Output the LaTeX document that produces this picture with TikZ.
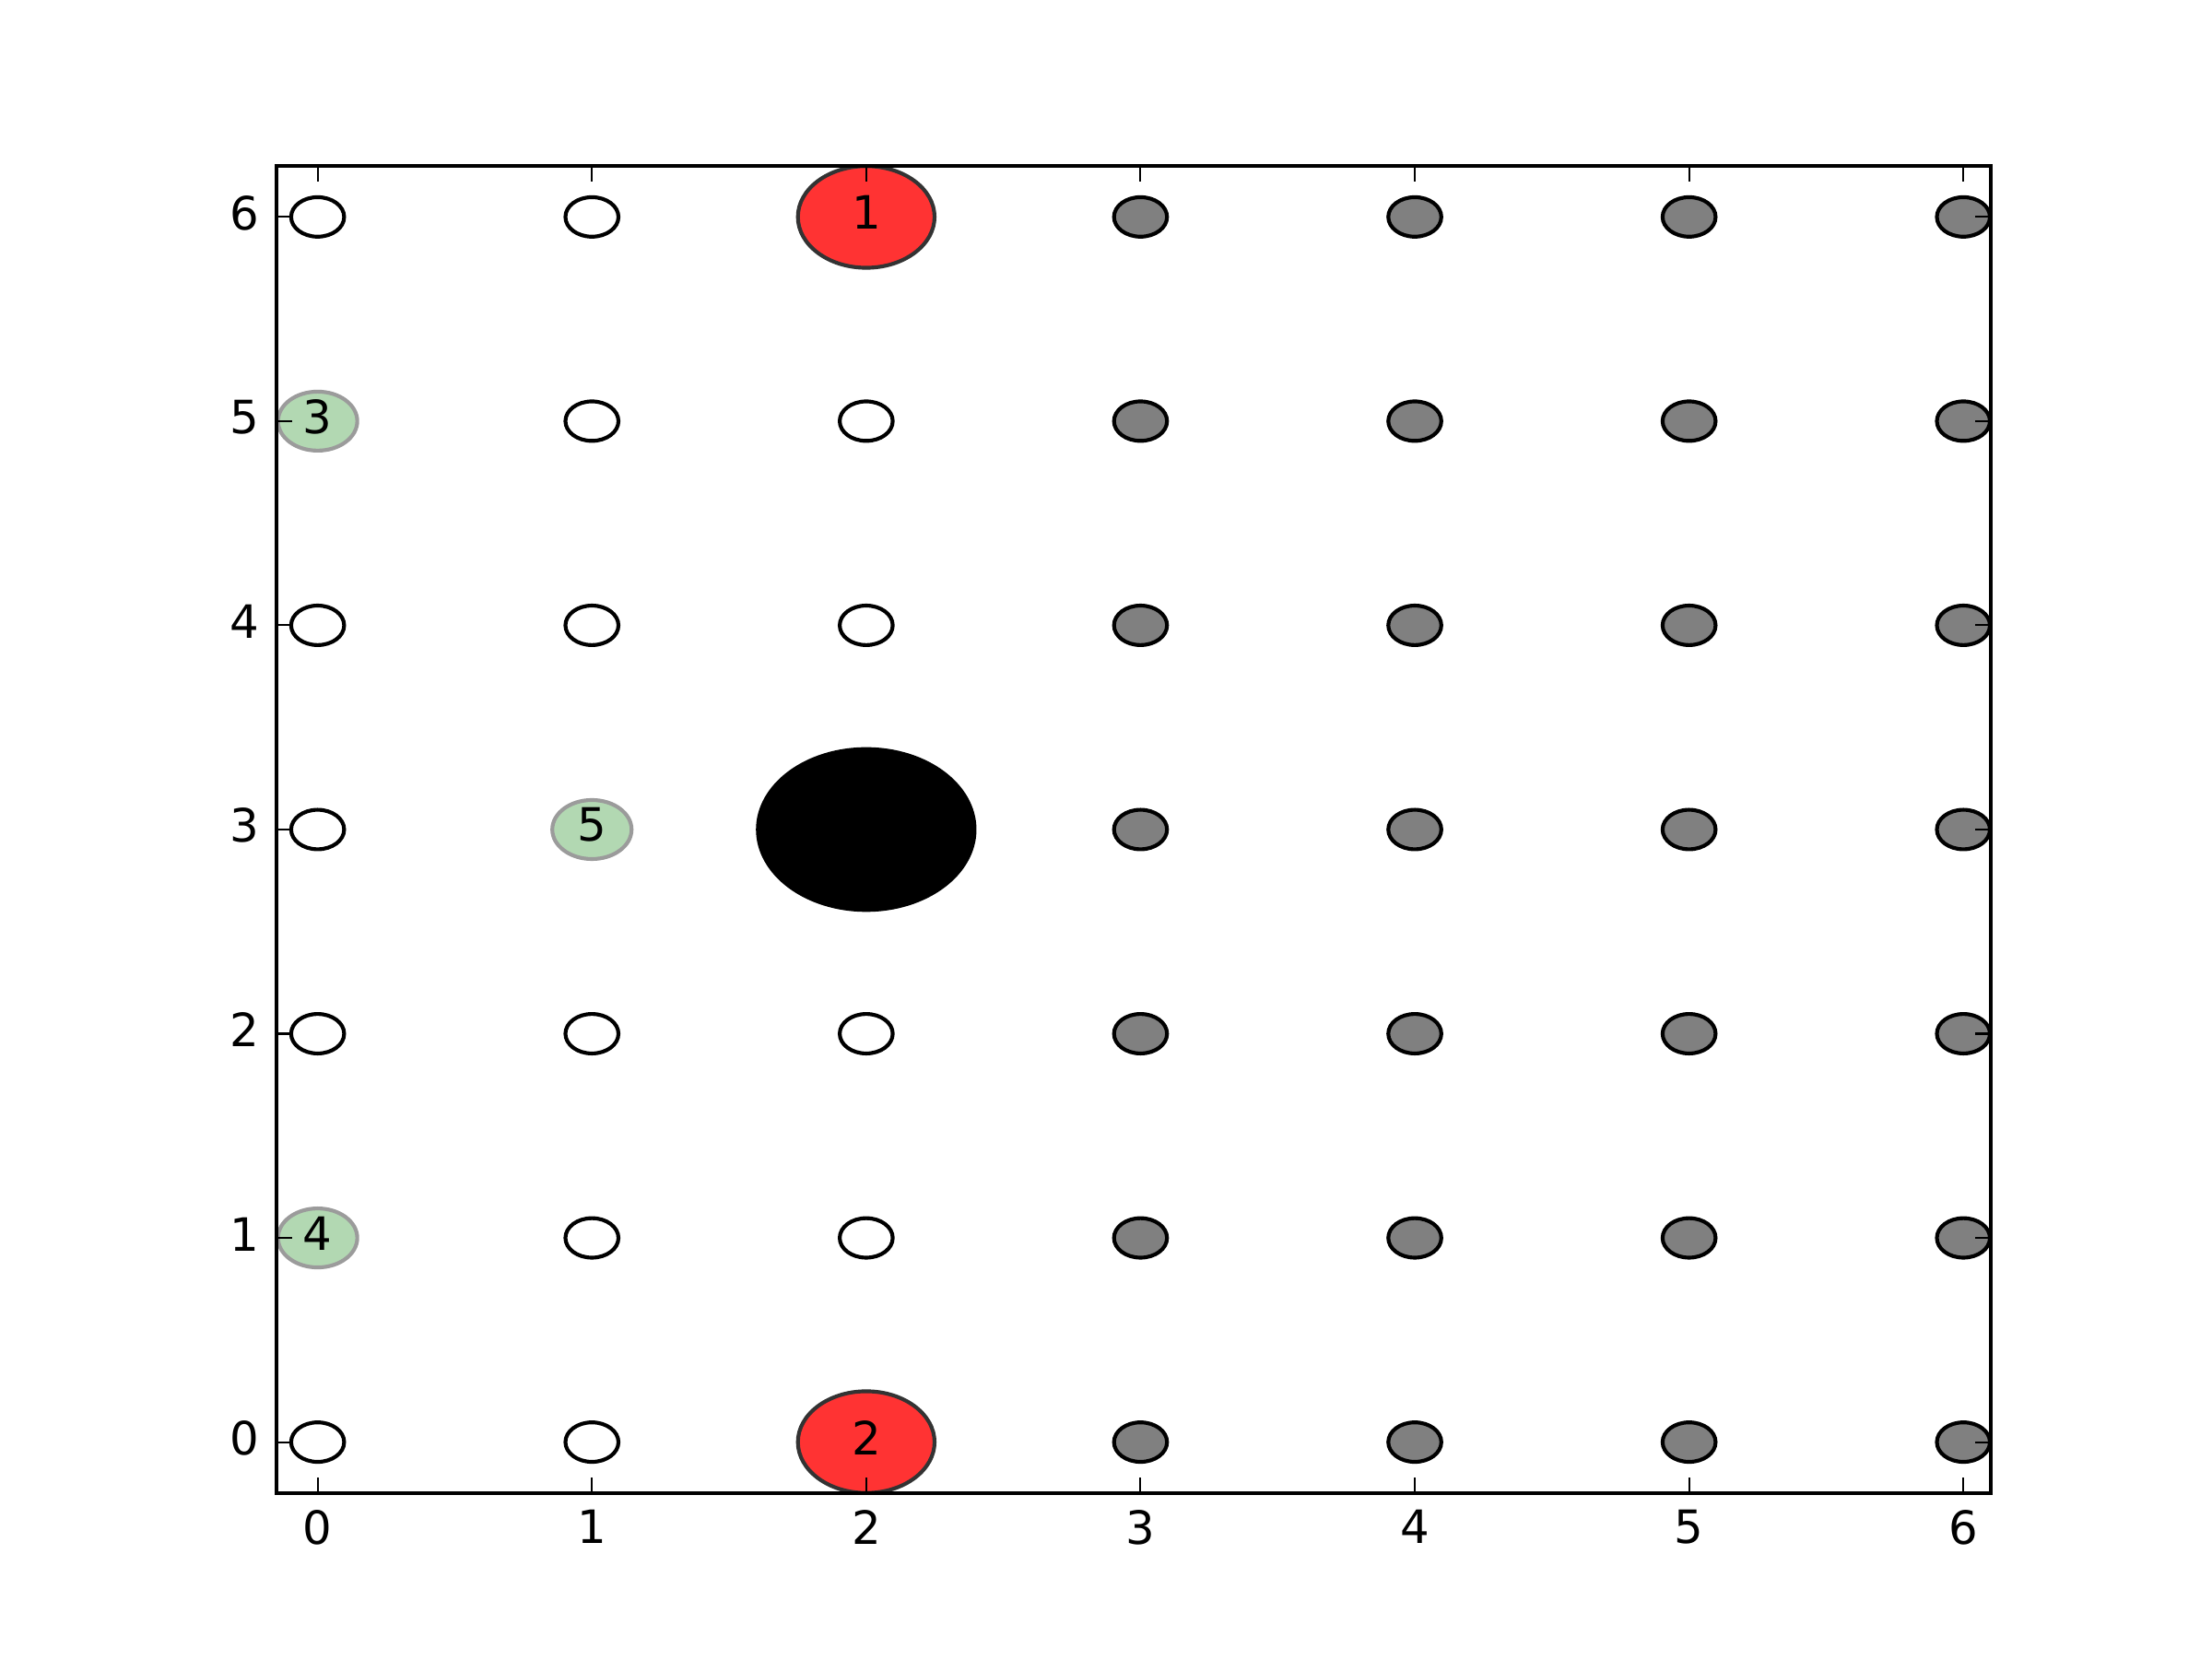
\documentclass[tikz,border=0pt]{standalone}
\usepackage{fontspec}
\setmainfont{DejaVu Sans}
\definecolor{ptgray}{RGB}{128,128,128}
\definecolor{redfill}{RGB}{255,51,51}
\definecolor{rededge}{RGB}{51,51,51}
\definecolor{greenfill}{RGB}{178,216,178}
\definecolor{greenedge}{RGB}{155,155,155}
\tikzset{
  cwhite/.style={draw=black, fill=white, line width=1pt},
  cgray/.style={draw=black, fill=ptgray, line width=1pt},
  cred/.style={draw=rededge, fill=redfill, line width=1pt},
  cgreen/.style={draw=greenedge, fill=greenfill, line width=1pt},
  cblack/.style={draw=black, fill=black, line width=0.5pt},
  ticklin/.style={line width=0.5pt},
  spine/.style={line width=1pt},
  lbl/.style={inner sep=0pt},
}
\begin{document}
\begin{tikzpicture}[x=0.992in, y=0.738462in, font=\fontsize{12}{14.4}\selectfont]
\useasboundingbox (-1.158065,-1.0625) rectangle (6.906452,7.0625);
\begin{scope}
\clip (-0.15,-0.25) rectangle (6.1,6.25);
% white markers
\foreach \p in {(0,0),(0,2),(0,3),(0,4),(0,6),(1,0),(1,1),(1,2),(1,4),(1,5),(1,6),(2,1),(2,2),(2,4),(2,5)}
  \draw[cwhite] \p ellipse [x radius=6.93pt, y radius=5.16pt];
% gray markers
\foreach \x in {3,...,6}
  \foreach \y in {0,...,6}
    \draw[cgray] (\x,\y) ellipse [x radius=6.93pt, y radius=5.16pt];
% green markers
\foreach \p in {(0,5),(0,1),(1,3)}
  \draw[cgreen] \p ellipse [x radius=10.36pt, y radius=7.71pt];
% red markers
\foreach \p in {(2,6),(2,0)}
  \draw[cred] \p ellipse [x radius=17.86pt, y radius=13.29pt];
% black marker
\draw[cblack] (2,3) ellipse [x radius=28.57pt, y radius=21.27pt];
\end{scope}
% ticks
\foreach \v in {0,...,6} {
  \draw[ticklin] (\v,-0.25) -- ++(0,4pt);
  \draw[ticklin] (\v,6.25) -- ++(0,-4pt);
  \draw[ticklin] (-0.15,\v) -- ++(4pt,0);
  \draw[ticklin] (6.1,\v) -- ++(-4pt,0);
}
\draw[spine] (-0.15,-0.25) rectangle (6.1,6.25);
% tick labels
\foreach \v in {0,...,6} {
  \node[lbl, anchor=north] (xl\v) at ([yshift=-4.3pt]\v,-0.25) {\v};
  \node[lbl, anchor=east] (yl\v) at ([xshift=-4.3pt, yshift=1pt]-0.15,\v) {\v};
}
% marker labels
\node[lbl] (m1) at ([yshift=1.2pt]2,6) {1};
\node[lbl] (m2) at ([yshift=1.2pt]2,0) {2};
\node[lbl] (m3) at ([yshift=1.2pt]0,5) {3};
\node[lbl] (m4) at ([yshift=1.2pt]0,1) {4};
\node[lbl] (m5) at ([yshift=1.2pt]1,3) {5};
\end{tikzpicture}
\end{document}
